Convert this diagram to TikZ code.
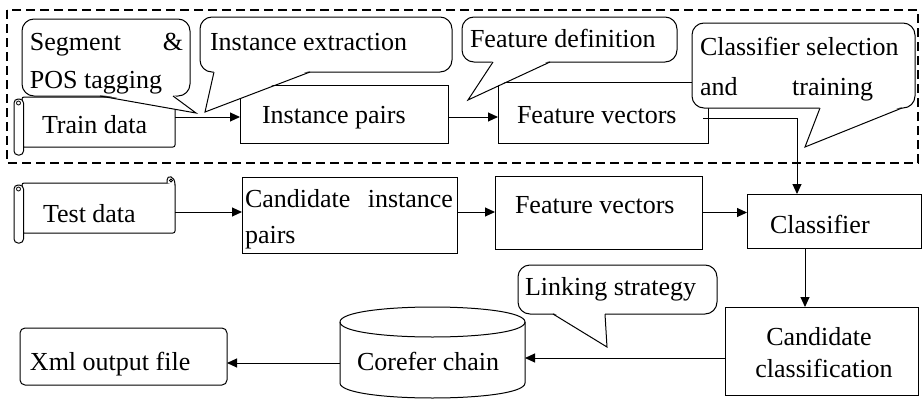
\documentclass[tikz,border=0pt]{standalone}
\usepackage{fontspec}
\setmainfont{Liberation Serif}
\usetikzlibrary{arrows.meta,calc}
\newcommand\fsz{\fontsize{26}{30}\selectfont}
\newcommand\mycallout[8]{%
  \filldraw[callbox] (#1,#2) rectangle (#3,#4);
  \fill[white] (#5,#4-1.6) -- (#7,#8) -- (#6,#4-1.6) -- cycle;
  \draw[callline] (#5,#4) -- (#7,#8) -- (#6,#4);}
\tikzset{
  plain/.style={draw, fill=white, line width=1pt, inner sep=0pt, outer sep=0pt},
  txt/.style={anchor=base west, inner sep=0pt, outer sep=0pt, font=\fsz},
  callbox/.style={draw, fill=white, line width=1pt, rounded corners=12pt},
  callline/.style={line width=1pt, line join=miter},
  arr/.style={line width=1pt, -{Triangle[length=10pt,width=9pt]}},
  frame/.style={line width=1.6pt, dash pattern=on 9pt off 5pt},
  roll/.style={draw, fill=white, line width=1pt, rounded corners=4pt},
  curl/.style={draw, fill=white, line width=1pt}
}
\begin{document}
\begin{tikzpicture}[x=1pt,y=-1pt]
\useasboundingbox (0,0) rectangle (922,399);
\fill[white] (0,0) rectangle (922,399);
% dashed frame
\draw[frame] (7,10) rectangle (918,163);
% row 1 boxes
\node[plain, rounded corners=2pt, minimum width=153pt, minimum height=50pt] (train) at (98.5,122) {};
\draw[roll] (14,99) rectangle (23.5,155);
\draw[line width=0.8pt] (18.5,103) circle (2);
\draw[curl] (175,99) .. controls (175,92) and (168,92) .. (168,97) -- (168,97.5);
\node[plain, minimum width=208pt, minimum height=58pt] (ipairs) at (344,114) {};
\node[plain, minimum width=210pt, minimum height=61pt] (fv1) at (603,112.5) {};
% row 2 boxes
\node[plain, rounded corners=2pt, minimum width=153pt, minimum height=50pt] (test) at (98.5,208) {};
\draw[roll] (14,185) rectangle (23.5,243);
\draw[line width=0.8pt] (18.5,189) circle (2);
\draw[curl] (175,185) .. controls (175,175) and (167,175) .. (167,180) -- (167,183);
\draw[line width=0.8pt] (171,180.5) circle (1.5);
\node[plain, minimum width=215pt, minimum height=76pt] (cand) at (349.5,215) {};
\node[plain, minimum width=207pt, minimum height=73pt] (fv2) at (598.5,212.5) {};
\node[plain, minimum width=174pt, minimum height=54pt] (cls) at (834,221) {};
% row 3 boxes
\node[plain, minimum width=193pt, minimum height=88pt] (cc) at (821.5,351) {};
\node[plain, rounded corners=5pt, minimum width=207pt, minimum height=57pt] (xml) at (123.5,356.5) {};
% callouts
\mycallout{22}{19}{190}{96}{100}{173}{196}{113}
\mycallout{200}{17}{452}{72}{214}{310}{205}{112}
\mycallout{462}{17}{677}{62}{493}{550}{468}{100}
\mycallout{692}{23}{915}{108}{820}{902}{805}{147}
\mycallout{518}{265}{717}{314}{553}{605}{607}{347}
% cylinder
\node[inner sep=0pt, outer sep=0pt, minimum width=185pt, minimum height=91pt] (corefer) at (432.5,352.5) {};
\filldraw[line width=1pt, fill=white] (340,322) .. controls (340,302) and (525,302) .. (525,322)
  -- (525,383) .. controls (525,403) and (340,403) .. (340,383) -- cycle;
\draw[line width=1pt] (340,322) .. controls (340,342) and (525,342) .. (525,322);
% texts
\node[txt] (tSeg1) at (30,50) {\makebox[153pt][s]{Segment \&}};
\node[txt] (tSeg2) at (30,88) {POS tagging};
\node[txt] (tIE) at (210,50) {Instance extraction};
\node[txt] (tFD) at (470,47) {Feature definition};
\node[txt] (tCS1) at (700,55) {Classifier selection};
\node[txt] (tCS2) at (700,95) {\makebox[173pt][s]{and training}};
\node[txt] (tTrain) at (42,133) {Train data};
\node[txt] (tIP) at (262,123) {Instance pairs};
\node[txt] (tFV1) at (517,123) {Feature vectors};
\node[txt] (tTest) at (43,222) {Test data};
\node[txt] (tCI1) at (245,207) {\makebox[208pt][s]{Candidate instance}};
\node[txt] (tCI2) at (245,243) {pairs};
\node[txt] (tFV2) at (515,213) {Feature vectors};
\node[txt] (tCls) at (770,233) {Classifier};
\node[txt] (tLS) at (525,295) {Linking strategy};
\node[txt, anchor=base] (tCC1) at (819,345) {Candidate};
\node[txt, anchor=base] (tCC2) at (824,377) {classification};
\node[txt] (tCor) at (357,370) {Corefer chain};
\node[txt] (tXml) at (30,370) {Xml output file};
% connectors
\coordinate (a1) at ($(train.east)+(0,-5)$);
\draw[arr] (a1) -- (a1 -| ipairs.west);
\coordinate (a2) at ($(ipairs.east)+(0,3)$);
\draw[arr] (a2) -- (a2 -| fv1.west);
\coordinate (a3) at ($(fv1.east)+(-5,5.5)$);
\coordinate (b3) at ($(cls.north west)+(50,0)$);
\draw[arr] (a3) -| (b3);
\coordinate (a4) at ($(test.east)+(0,4)$);
\draw[arr] (a4) -- (a4 -| cand.west);
\coordinate (a5) at ($(cand.east)+(0,-3)$);
\draw[arr] (a5) -- (a5 -| fv2.west);
\draw[arr] (fv2.east) -- (fv2.east -| cls.west);
\coordinate (a7) at ($(cls.south west)+(58,0)$);
\draw[arr] (a7) -- (a7 |- cc.north);
\coordinate (a8) at ($(cc.west)+(0,7)$);
\draw[arr] (a8) -- (a8 -| corefer.east);
\coordinate (a9) at ($(corefer.west)+(0,10.5)$);
\draw[arr] (a9) -- (a9 -| xml.east);
\end{tikzpicture}
\end{document}
